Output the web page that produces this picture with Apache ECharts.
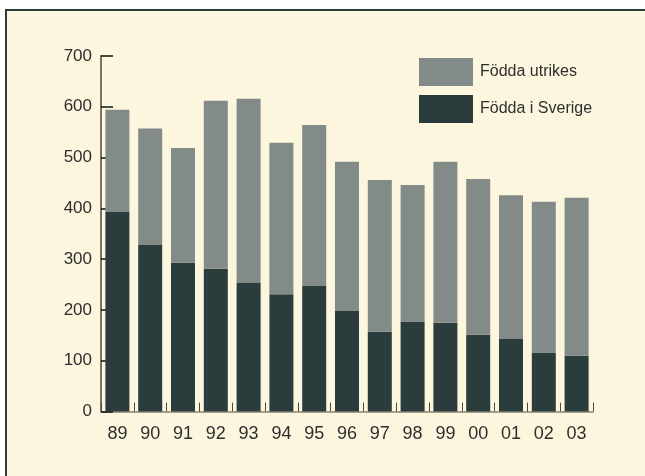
<!DOCTYPE html>
<html>
<head>
<meta charset="utf-8">
<script src="https://cdn.jsdelivr.net/npm/echarts@6/dist/echarts.min.js"></script>
<style>
  html, body { margin: 0; padding: 0; background: #ffffff; }
  #chart { width: 645px; height: 476px; }
</style>
</head>
<body>
<div id="chart"></div>
<script>
// Years (two-digit labels) along the x axis
const years = ['89', '90', '91', '92', '93', '94', '95', '96', '97', '98', '99', '00', '01', '02', '03'];

// Born in Sweden (bottom of each stack)
const foddaISverige = [393, 328, 293, 281, 253, 231, 247, 198, 157, 177, 175, 151, 143, 116, 110];

// Born abroad (stacked on top)
const foddaUtrikes = [201, 229, 226, 331, 363, 298, 317, 294, 299, 269, 317, 307, 283, 297, 311];

const yTicks = { min: 0, max: 700, interval: 100 };

const seriesNames = ['Födda utrikes', 'Födda i Sverige'];

const chart = echarts.init(document.getElementById('chart'), null, { renderer: 'canvas' });

const fontFamily = 'Arial, "Liberation Sans", Helvetica, sans-serif';
const textColor = '#2e2e2e';

chart.setOption({
  backgroundColor: 'transparent',
  animation: false,
  graphic: [{
    type: 'rect',
    z: -10,
    silent: true,
    shape: { x: 6, y: 10, width: 700, height: 520 },
    style: { fill: '#fdf6de', stroke: '#2c3b3b', lineWidth: 2 }
  }],
  legend: {
    orient: 'vertical',
    left: 419,
    top: 58,
    padding: 0,
    itemWidth: 54,
    itemHeight: 28,
    itemGap: 9,
    icon: 'rect',
    data: seriesNames,
    textStyle: { fontFamily, fontSize: 16, color: textColor, padding: [0, 0, 0, 2] }
  },
  grid: { left: 101, top: 56, width: 492, height: 355.5, containLabel: false },
  xAxis: {
    type: 'category',
    data: years,
    boundaryGap: true,
    axisLine: { show: true, lineStyle: { color: '#8a8270', width: 1.5 } },
    axisTick: { show: true, inside: true, length: 9, alignWithLabel: false, lineStyle: { color: '#4a4a44', width: 1 } },
    axisLabel: { fontFamily, fontSize: 18, color: textColor, margin: 14 },
    splitLine: { show: false }
  },
  yAxis: {
    type: 'value',
    min: yTicks.min,
    max: yTicks.max,
    interval: yTicks.interval,
    axisLine: { show: true, lineStyle: { color: '#7a7262', width: 2 } },
    axisTick: { show: true, inside: true, length: 12, lineStyle: { color: '#111111', width: 1.5 } },
    axisLabel: { fontFamily, fontSize: 17, color: textColor, margin: 9 },
    splitLine: { show: false }
  },
  series: [
    {
      name: 'Födda i Sverige',
      type: 'bar',
      stack: 'total',
      barWidth: 24,
      data: foddaISverige,
      itemStyle: { color: '#2b3c3c' }
    },
    {
      name: 'Födda utrikes',
      type: 'bar',
      stack: 'total',
      barWidth: 24,
      data: foddaUtrikes,
      itemStyle: { color: '#838b89' }
    }
  ]
});
</script>
</body>
</html>
